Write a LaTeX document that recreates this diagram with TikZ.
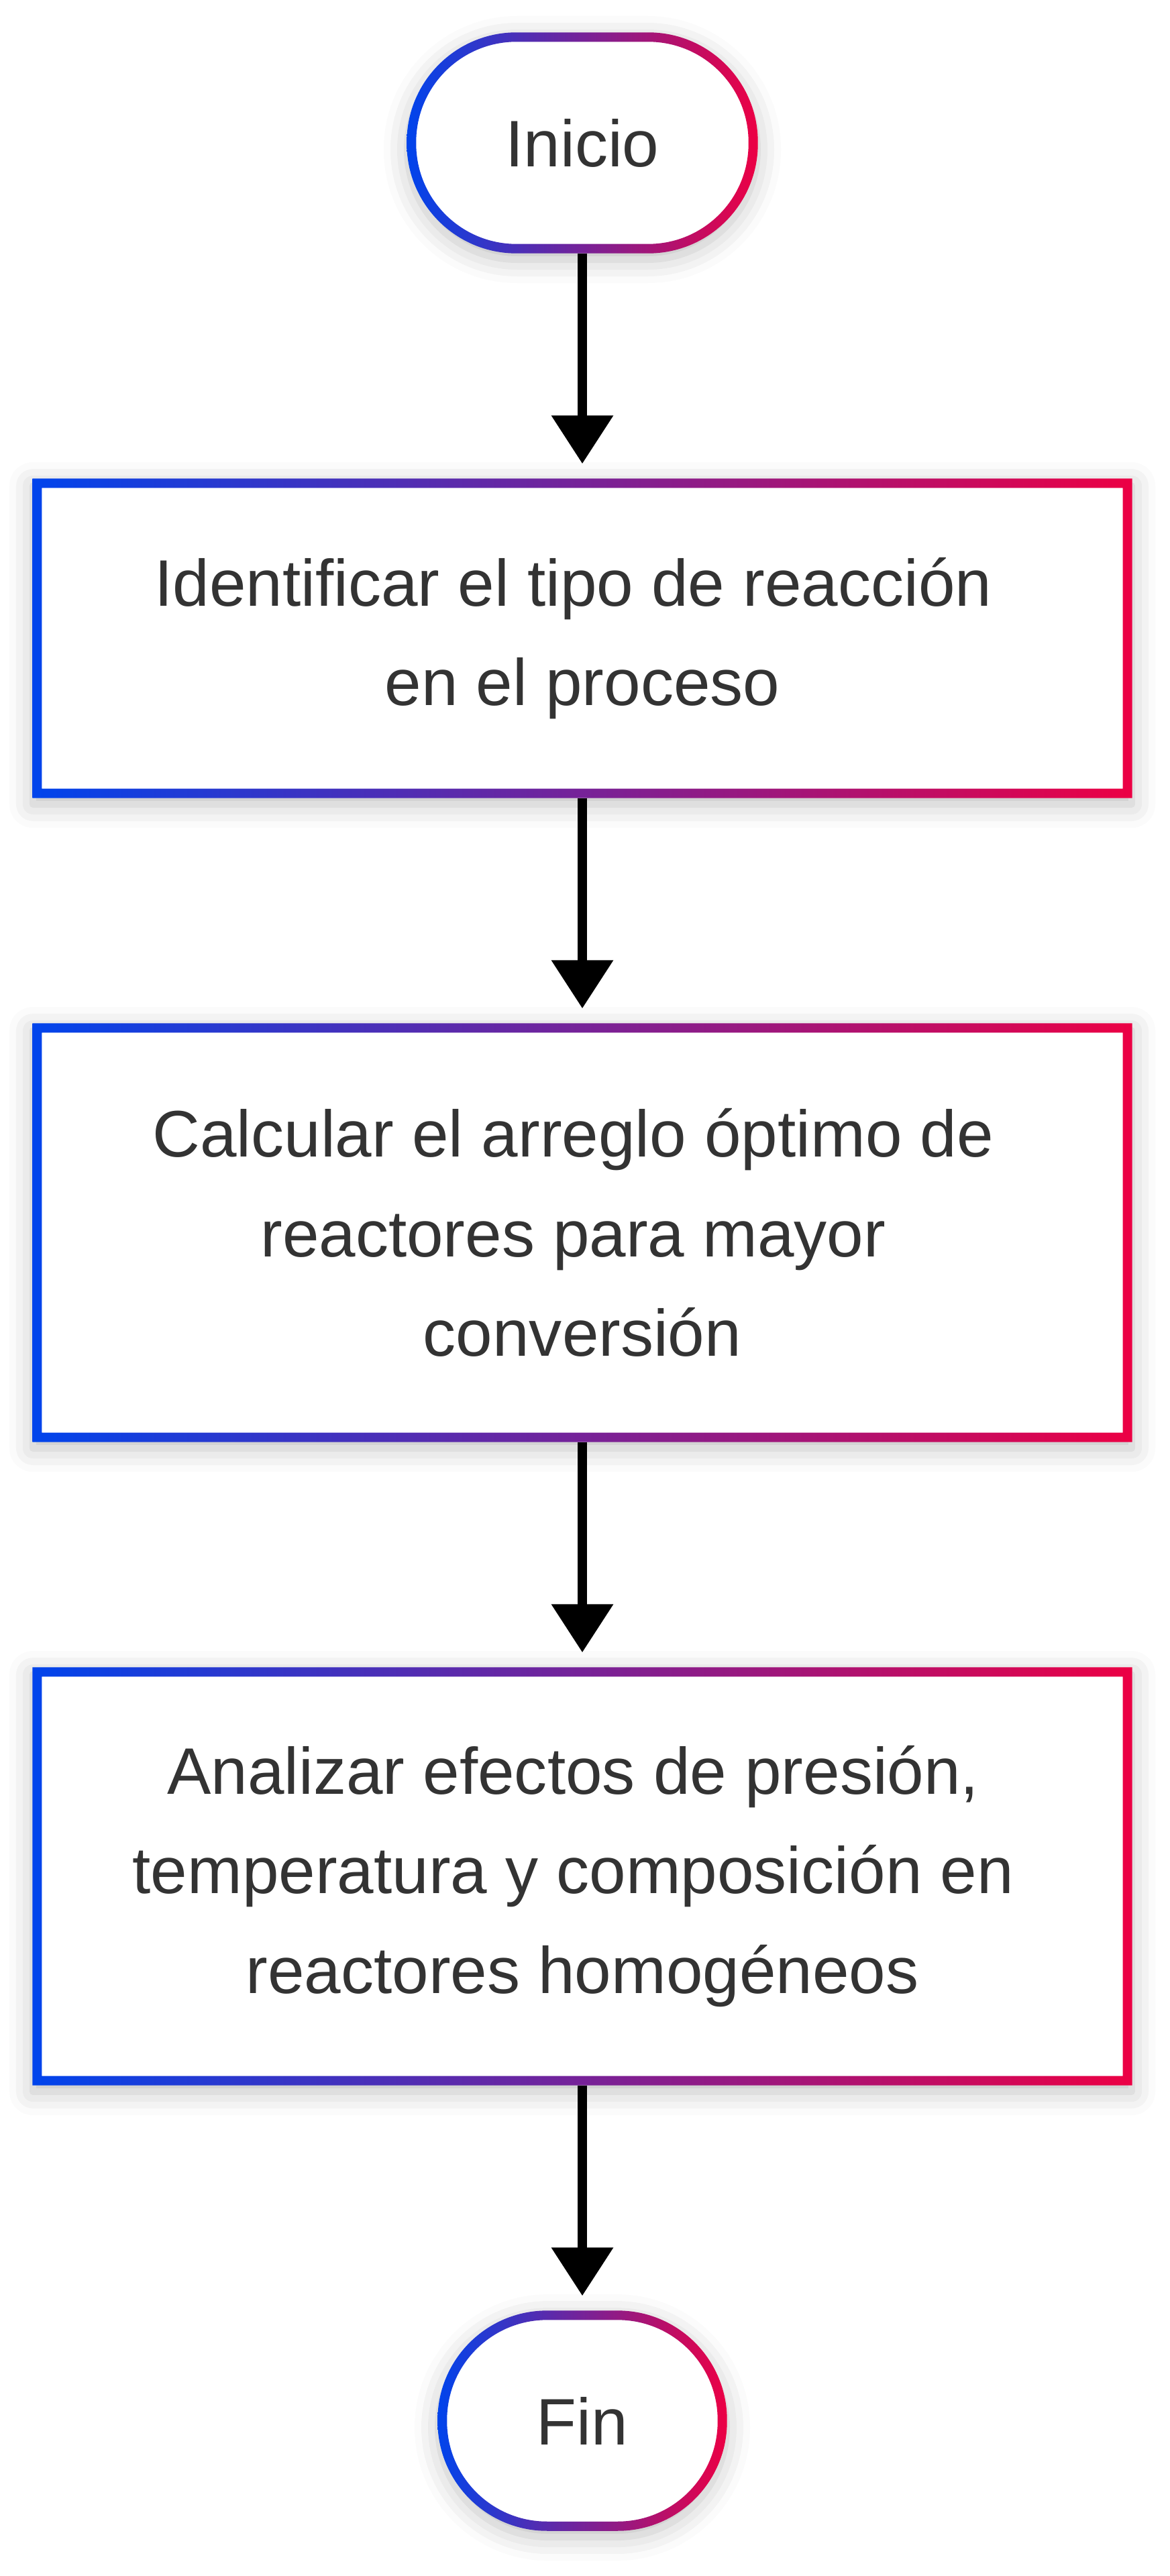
\documentclass[tikz,border=0pt]{standalone}
\usepackage{fontspec}
\setmainfont{Liberation Sans}
\usetikzlibrary{arrows.meta,shadows.blur}
\definecolor{gblue}{RGB}{0,68,236}
\definecolor{gred}{RGB}{236,0,68}
\definecolor{txt}{RGB}{51,51,51}
\newcommand\gradring[3]{%
  \shade[even odd rule, left color=gblue, right color=gred]
    [#2] (#1.south west) rectangle (#1.north east)
    [#3] ([shift={(0.14,0.14)}]#1.south west) rectangle ([shift={(-0.14,-0.14)}]#1.north east);}
\newcommand\tsp{\hbox to 0.278em{}}
\tikzset{
  base/.style={fill=white, inner sep=0pt, text=txt, align=center,
    font=\fontsize{27.9}{42.3}\selectfont,
    blur shadow={shadow xshift=0pt, shadow yshift=-0.1cm, shadow blur radius=0.35cm, shadow opacity=25}},
  stepbox/.style={base, rectangle, minimum width=16.38cm},
  term/.style={base, rectangle, rounded corners=1.635cm, minimum height=3.28cm},
  flow/.style={line width=0.14cm, black, -{Triangle[width=0.89cm,length=0.72cm]}, shorten >=0.22cm}
}
\begin{document}
\begin{tikzpicture}
\useasboundingbox (0,0) rectangle (17.44,-38.4);
\node[term, minimum width=5.22cm] (ini) at (8.68,-2.13) {Inicio};
\node[stepbox, minimum height=4.75cm] (b1) at (8.68,-9.515) {Identificar el tipo de reacción\tsp\\en el proceso};
\node[stepbox, minimum height=6.23cm] (b2) at (8.68,-18.375) {Calcular el arreglo óptimo de\tsp\\reactores para mayor\tsp\\conversión};
\node[stepbox, minimum height=6.22cm] (b3) at (8.68,-27.97) {Analizar efectos de presión,\tsp\\temperatura y composición en\tsp\\reactores homogéneos};
\node[term, minimum width=4.30cm, minimum height=3.27cm] (fin) at (8.68,-36.085) {Fin};
\gradring{ini}{rounded corners=1.635cm}{rounded corners=1.495cm}
\gradring{b1}{sharp corners}{sharp corners}
\gradring{b2}{sharp corners}{sharp corners}
\gradring{b3}{sharp corners}{sharp corners}
\gradring{fin}{rounded corners=1.63cm}{rounded corners=1.49cm}
\draw[flow] (ini.south) -- (b1.north);
\draw[flow] (b1.south) -- (b2.north);
\draw[flow] (b2.south) -- (b3.north);
\draw[flow] (b3.south) -- (fin.north);
\end{tikzpicture}
\end{document}
